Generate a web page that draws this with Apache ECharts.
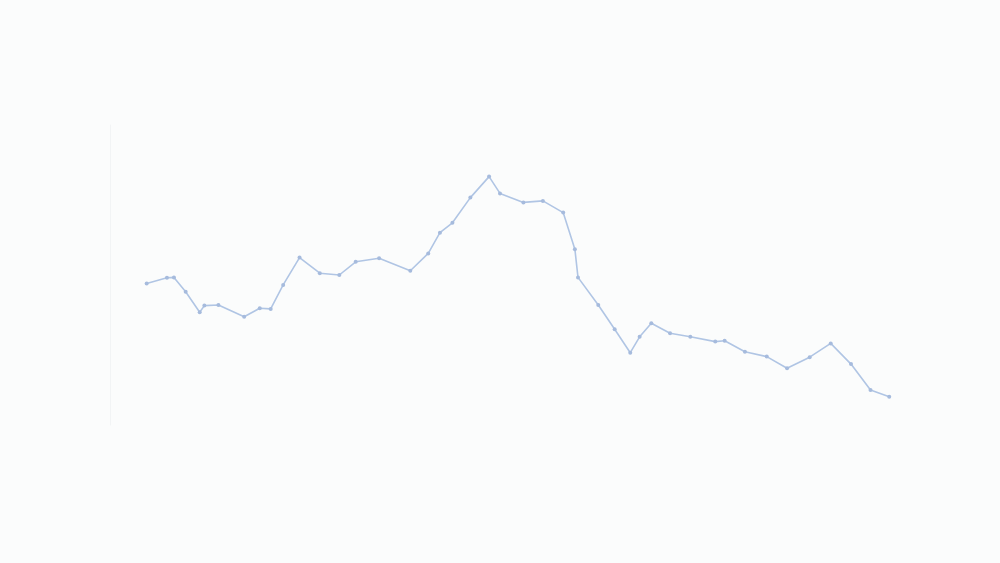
<!DOCTYPE html>
<html lang="en">
<head>
    <meta charset="utf-8" />
    <title>line</title>
    <style>
      html, body { margin: 0; padding: 0; background: #fbfcfc; }
      #main { width: 1000px; height: 563px; }
    </style>
</head>
<body>
    <div id="main"></div>
    <script src="https://cdn.jsdelivr.net/npm/echarts@6/dist/echarts.min.js"></script>
    <script>
    // x positions (0-100) and values (0-100)
    var xs = [4.7, 7.3, 8.2, 9.7, 11.5, 12.1, 13.9, 17.2, 19.2, 20.6,
              22.2, 24.3, 26.9, 29.4, 31.5, 34.5, 38.5, 40.8, 42.3, 43.9,
              46.2, 48.6, 50.0, 53.0, 55.5, 58.1, 59.6, 60.0, 62.6, 64.7,
              66.7, 67.9, 69.4, 71.8, 74.4, 77.6, 78.8, 81.4, 84.2, 86.8,
              89.7, 92.4, 95.0, 97.5, 99.9];
    var ys = [47.2, 49.1, 49.2, 44.4, 37.6, 39.8, 40.0, 36.1, 38.9, 38.7,
              46.7, 55.8, 50.6, 50.0, 54.4, 55.6, 51.4, 57.2, 64.1, 67.4,
              75.8, 82.8, 77.2, 74.2, 74.7, 70.8, 58.6, 49.2, 40.0, 31.9,
              24.1, 29.4, 33.9, 30.6, 29.4, 27.8, 28.1, 24.4, 22.8, 18.9,
              22.6, 27.2, 20.3, 11.7, 9.4];

    var points = [];
    for (var i = 0; i < xs.length; i++) {
      points.push([xs[i], ys[i]]);
    }

    var myChart = echarts.init(document.getElementById("main"));
    var option = {
        backgroundColor: "#fbfcfc",
        animation: false,
        grid: {
            left: 110,
            right: 110,
            top: 125,
            bottom: 138
        },
        xAxis: {
            type: "value",
            min: 0,
            max: 100,
            axisLabel: { show: false },
            axisTick: { show: false },
            axisLine: { show: false },
            splitLine: { show: false }
        },
        yAxis: {
            type: "value",
            min: 0,
            max: 100,
            axisLabel: { show: false },
            axisTick: { show: false },
            axisLine: {
                show: true,
                lineStyle: { color: "#f2f4f5", width: 1 }
            },
            splitLine: { show: false }
        },
        series: [{
            type: "line",
            data: points,
            symbol: "circle",
            symbolSize: 4,
            itemStyle: { color: "#a6bbdd" },
            lineStyle: { color: "#b0c5e4", width: 1.6 }
        }]
    };
    myChart.setOption(option);
    </script>
</body>
</html>
